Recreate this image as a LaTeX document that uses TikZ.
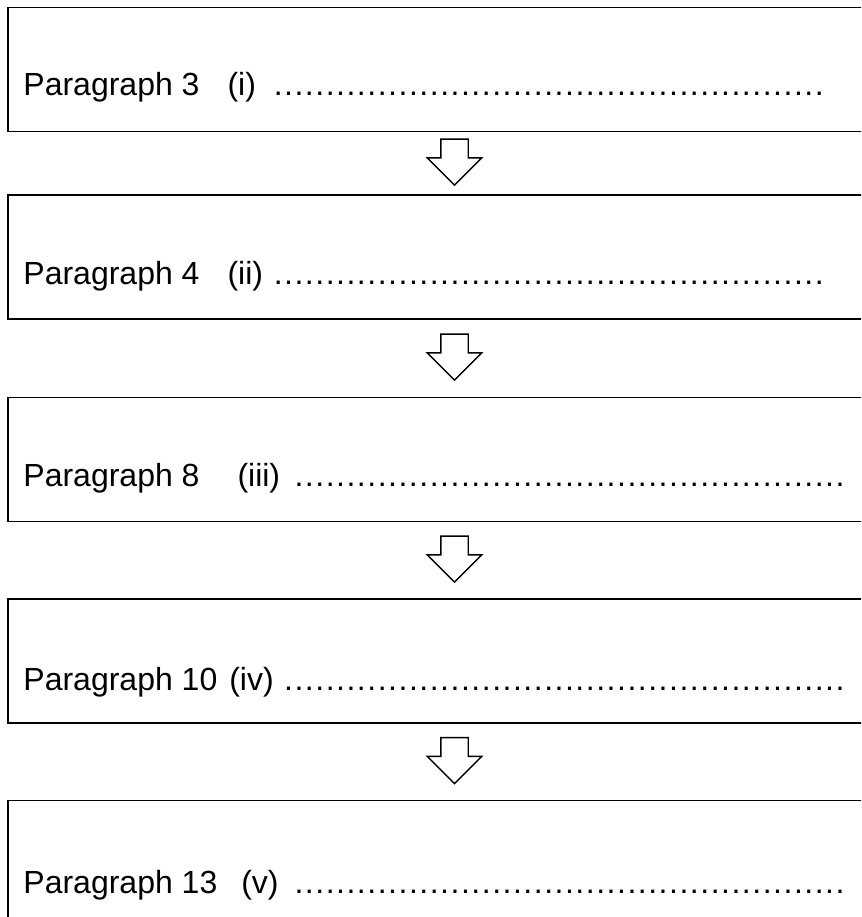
\documentclass[tikz,border=0pt]{standalone}
\usepackage{fontspec}
\setmainfont{Liberation Sans}
\usetikzlibrary{positioning,calc,shapes.arrows}

\newcommand{\dotrow}{\leaders\hbox to 10.4pt{\hss.\hss}\hfill}

\begin{document}
\begin{tikzpicture}[x=1pt, y=-1pt,
                parbox/.style = {draw, line width=1.5pt, minimum width=893pt, minimum height=124pt, inner sep=0pt},
                partext/.style = {anchor=base west, inner sep=0pt, font=\fontsize{32}{38}\selectfont},
                downarrow/.style = {single arrow, draw, line width=1.4pt, fill=white, shape border rotate=270,
                    minimum height=46pt, inner sep=13pt, single arrow head extend=13.5pt, yshift=8pt}]
                \path[use as bounding box, clip] (0,0) rectangle (861,917);
                \node[parbox] (p3) at (454.5,69.5) {};
                \node[parbox, below=62pt of p3] (p4) {};
                \node[parbox, below=77pt of p4] (p8) {};
                \node[parbox, below=76pt of p8] (p10) {};
                \node[parbox, below=76pt of p10] (p13) {};
                \node[partext] (t3) at ($(p3.north west)+(16,89)$) {\makebox[808pt][l]{Paragraph 3\hspace{28pt}(i) \dotrow}};
                \node[partext] (t4) at ($(p4.north west)+(16,90)$) {\makebox[808pt][l]{Paragraph 4\hspace{28pt}(ii) \dotrow}};
                \node[partext] (t8) at ($(p8.north west)+(16,90)$) {\makebox[825pt][l]{Paragraph 8\hspace{38pt}(iii) \dotrow}};
                \node[partext] (t10) at ($(p10.north west)+(16,92.5)$) {\makebox[827pt][l]{Paragraph 10\hspace{12pt}(iv) \dotrow}};
                \node[partext] (t13) at ($(p13.north west)+(16,93.5)$) {\makebox[830pt][l]{Paragraph 13\hspace{24pt}(v) \dotrow}};
                \node[downarrow] (a1) at ($(p3.south)!0.5!(p4.north)$) {};
                \node[downarrow] (a2) at ($(p4.south)!0.5!(p8.north)$) {};
                \node[downarrow] (a3) at ($(p8.south)!0.5!(p10.north)$) {};
                \node[downarrow] (a4) at ($(p10.south)!0.5!(p13.north)$) {};
            \end{tikzpicture}
\end{document}
